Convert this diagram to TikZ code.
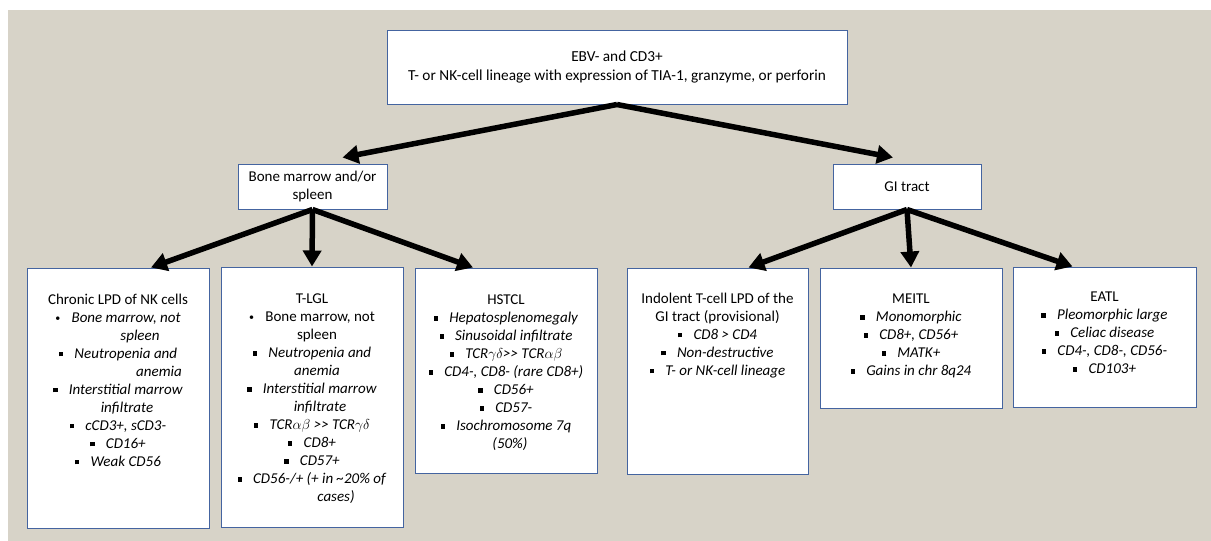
\documentclass[tikz,border=0pt]{standalone}
\usepackage{fontspec}
\setmainfont{Carlito}
\usetikzlibrary{arrows.meta,calc}
\definecolor{bgbeige}{RGB}{215,211,200}
\definecolor{boxblue}{RGB}{68,100,160}
\newcommand{\sqb}{\rule[0.15em]{0.29em}{0.29em}\hspace{0.75em}}
\newcommand{\rdb}{{\fontsize{10}{10}\selectfont\raisebox{0.1em}{\textbullet}}\hspace{0.75em}}
\newcommand{\muchgt}{>\kern0pt>}
\begin{document}
\begin{tikzpicture}[x=1pt,y=-1pt,
	box/.style={draw=boxblue, line width=1pt, fill=white, inner sep=0pt},
	txt/.style={inner sep=0pt, align=center, font=\fontsize{15}{18}\selectfont},
	arr/.style={line width=5.5pt, -{Triangle[length=16pt,width=18pt]}}]
	\fill[white](0,0) rectangle (1211,541);
	\fill[bgbeige](8,10) rectangle (1211,541);
	\useasboundingbox (0,0) rectangle (1211,541);
	% top levels
	\node[box, minimum width=460pt, minimum height=74pt, align=center, font=\fontsize{15.3}{19}\selectfont] (root) at (617,67) {EBV- and CD3+\\T- or NK-cell lineage with expression of TIA-1, granzyme, or perforin};
	\node[box, txt, minimum width=149pt, minimum height=45pt] (bm) at (312.5,186.5) {Bone marrow and/or\\spleen};
	\node[box, txt, minimum width=148pt, minimum height=45pt] (gi) at (907,186.5) {GI tract};
	% leaves
	\node[box, minimum width=182pt, minimum height=260pt] (nk) at (118,398) {};
	\node[box, minimum width=182pt, minimum height=260pt] (tlgl) at (312,397) {};
	\node[box, minimum width=182pt, minimum height=205pt] (hstcl) at (506,370.5) {};
	\node[box, minimum width=181pt, minimum height=206pt] (indolent) at (717.5,371) {};
	\node[box, minimum width=182pt, minimum height=140pt] (meitl) at (911,338) {};
	\node[box, minimum width=183pt, minimum height=140pt] (eatl) at (1104.5,337) {};
	\node[txt, anchor=north] (nk-t) at (118,294) {Chronic LPD of NK cells\\
		\rdb\textit{Bone marrow, not}\\ \hspace*{44pt}\textit{spleen}\\
		\sqb\textit{Neutropenia and}\\ \hspace*{82pt}\textit{anemia}\\
		\sqb\textit{Interstitial marrow}\\ \hspace*{18pt}\textit{infiltrate}\\
		\sqb\textit{cCD3+, sCD3-}\\ \sqb\textit{CD16+}\\ \sqb\textit{Weak CD56}};
	\node[txt, anchor=north] (tlgl-t) at (312,294) {T-LGL\\
		\rdb Bone marrow, not\\ \hspace*{10pt}spleen\\
		\sqb\textit{Neutropenia and}\\ \hspace*{10pt}\textit{anemia}\\
		\sqb\textit{Interstitial marrow}\\ \hspace*{16pt}\textit{infiltrate}\\
		\sqb\textit{TCR$\alpha\beta$ \muchgt{} TCR$\gamma\delta$}\\ \sqb\textit{CD8+}\\ \sqb\textit{CD57+}\\
		\sqb\textit{CD56-/+ (+ in \textasciitilde20\% of}\\ \hspace*{48pt}\textit{cases)}};
	\node[txt, anchor=north] (hstcl-t) at (506,295) {HSTCL\\
		\sqb\textit{Hepatosplenomegaly}\\ \sqb\textit{Sinusoidal infiltrate}\\
		\sqb\textit{TCR$\gamma\delta$\muchgt{} TCR$\alpha\beta$}\\ \sqb\textit{CD4-, CD8- (rare CD8+)}\\
		\sqb\textit{CD56+}\\ \sqb\textit{CD57-}\\
		\sqb\textit{Isochromosome 7q}\\ \hspace*{8pt}\textit{(50\%)}};
	\node[txt, anchor=north] (indolent-t) at (717.5,293) {Indolent T-cell LPD of the\\GI tract (provisional)\\
		\sqb\textit{CD8 > CD4}\\ \sqb\textit{Non-destructive}\\ \sqb\textit{T- or NK-cell lineage}};
	\node[txt, anchor=north] (meitl-t) at (911,294) {MEITL\\
		\sqb\textit{Monomorphic}\\ \sqb\textit{CD8+, CD56+}\\ \sqb\textit{MATK+}\\ \sqb\textit{Gains in chr 8q24}};
	\node[txt, anchor=north] (eatl-t) at (1104.5,292) {EATL\\
		\sqb\textit{Pleomorphic large}\\ \sqb\textit{Celiac disease}\\ \sqb\textit{CD4-, CD8-, CD56-}\\ \sqb\textit{CD103+}};
	% arrows
	\draw[arr](root.south) -- ($(bm.north)+(30,-6)$);
	\draw[arr](root.south) -- ($(gi.north)+(-14,-6)$);
	\draw[arr](bm.south) -- ($(nk.north)+(33,0)$);
	\draw[arr](bm.south) -- (tlgl.north);
	\draw[arr](bm.south) -- ($(hstcl.north)+(-33,0)$);
	\draw[arr](gi.south) -- ($(indolent.north)+(31,0)$);
	\draw[arr](gi.south) -- (meitl.north);
	\draw[arr](gi.south) -- ($(eatl.north)+(-32,0)$);
\end{tikzpicture}
\end{document}
